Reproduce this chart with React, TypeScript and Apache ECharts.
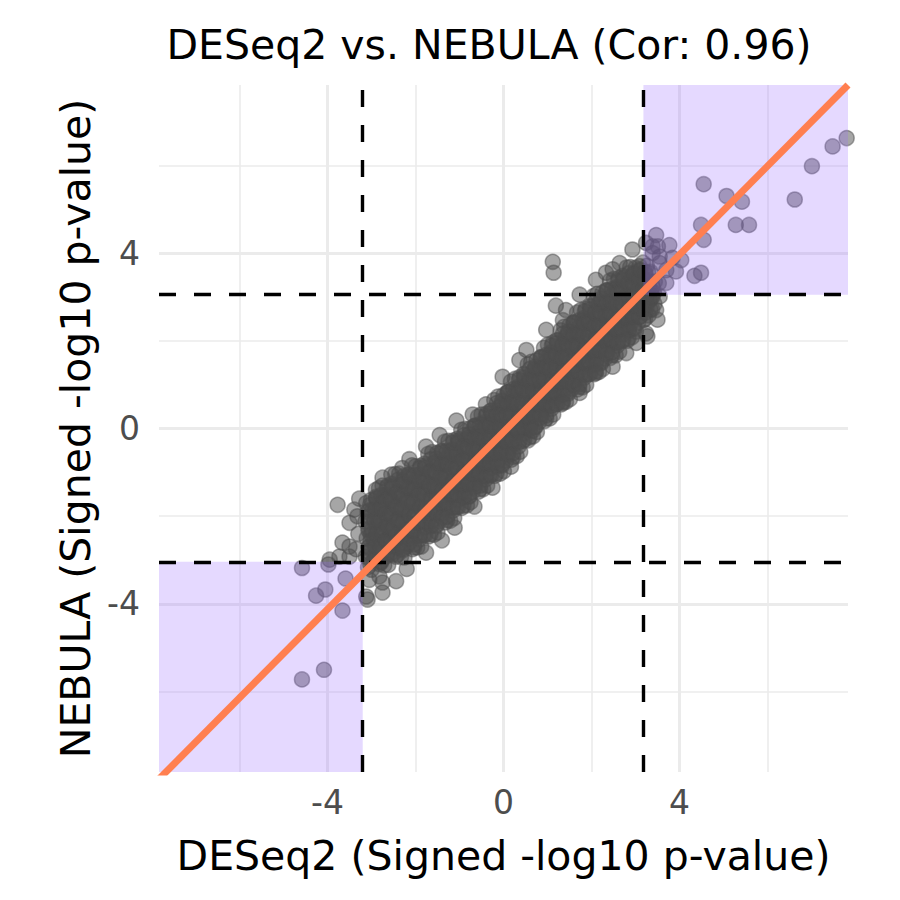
import React, { useEffect, useRef } from "react";
import * as echarts from "echarts";

const chartTitle = "DESeq2 vs. NEBULA (Cor: 0.96)";
const xAxisTitle = "DESeq2 (Signed -log10 p-value)";
const yAxisTitle = "NEBULA (Signed -log10 p-value)";

const axisLimits = [-7.83, 7.83];
const tickValues = [-4, 0, 4];
const majorGridValues = [-4, 0, 4];
const minorGridValues = [-6, -2, 2, 6];
const xThresholds = [-3.2, 3.18];
const yThresholds = [-3.04, 3.05];
const fitLineX = [-7.83, 7.83];
const fitLineY = [-7.99, 7.83];

// dense band of genes along the diagonal (DESeq2, NEBULA)
const coreCloud: [number, number][] = [
  [-3.08,-3.16],[-3.13,-2.92],[-3.06,-2.70],[-3.11,-2.50],[-3.07,-2.32],[-3.14,-2.12],[-3.09,-1.90],[-3.12,-1.70],
  [-3.00,-3.22],[-2.95,-3.00],[-3.02,-2.76],[-2.96,-2.53],[-2.99,-2.31],[-2.94,-2.08],[-2.98,-1.86],[-3.01,-1.63],
  [-2.82,-3.09],[-2.85,-2.80],[-2.88,-2.57],[-2.81,-2.33],[-2.87,-2.09],[-2.84,-1.85],[-2.89,-1.60],[-2.83,-1.36],
  [-2.71,-3.12],[-2.76,-2.82],[-2.69,-2.55],[-2.74,-2.30],[-2.70,-2.08],[-2.77,-1.82],[-2.72,-1.55],[-2.75,-1.30],
  [-2.62,-3.11],[-2.57,-2.85],[-2.64,-2.58],[-2.58,-2.32],[-2.61,-2.07],[-2.56,-1.81],[-2.60,-1.56],[-2.63,-1.30],
  [-2.45,-2.92],[-2.48,-2.61],[-2.51,-2.35],[-2.44,-2.09],[-2.50,-1.83],[-2.47,-1.58],[-2.52,-1.30],[-2.46,-1.04],
  [-2.33,-2.93],[-2.38,-2.62],[-2.31,-2.33],[-2.36,-2.07],[-2.32,-1.85],[-2.39,-1.58],[-2.34,-1.29],[-2.37,-1.03],
  [-2.25,-2.94],[-2.20,-2.68],[-2.27,-2.39],[-2.21,-2.13],[-2.24,-1.87],[-2.19,-1.61],[-2.23,-1.34],[-2.26,-1.08],
  [-2.07,-2.75],[-2.10,-2.44],[-2.13,-2.18],[-2.06,-1.91],[-2.12,-1.65],[-2.09,-1.39],[-2.14,-1.10],[-2.08,-0.84],
  [-1.96,-2.71],[-2.01,-2.45],[-1.94,-2.15],[-1.99,-1.89],[-1.95,-1.66],[-2.02,-1.38],[-1.97,-1.12],[-2.00,-0.86],
  [-1.87,-2.69],[-1.82,-2.43],[-1.89,-2.15],[-1.83,-1.89],[-1.86,-1.63],[-1.81,-1.37],[-1.85,-1.11],[-1.88,-0.85],
  [-1.70,-2.46],[-1.73,-2.15],[-1.76,-1.89],[-1.69,-1.63],[-1.75,-1.37],[-1.72,-1.12],[-1.77,-0.84],[-1.71,-0.58],
  [-1.58,-2.42],[-1.63,-2.11],[-1.56,-1.83],[-1.61,-1.57],[-1.57,-1.35],[-1.64,-1.08],[-1.59,-0.80],[-1.62,-0.54],
  [-1.50,-2.37],[-1.45,-2.11],[-1.52,-1.84],[-1.46,-1.58],[-1.49,-1.33],[-1.44,-1.07],[-1.48,-0.82],[-1.51,-0.56],
  [-1.32,-2.14],[-1.35,-1.84],[-1.38,-1.58],[-1.31,-1.33],[-1.37,-1.08],[-1.34,-0.83],[-1.39,-0.55],[-1.33,-0.30],
  [-1.21,-2.10],[-1.26,-1.80],[-1.19,-1.53],[-1.24,-1.28],[-1.20,-1.06],[-1.27,-0.80],[-1.22,-0.53],[-1.25,-0.28],
  [-1.12,-2.04],[-1.07,-1.79],[-1.14,-1.52],[-1.08,-1.27],[-1.11,-1.02],[-1.06,-0.77],[-1.10,-0.52],[-1.13,-0.27],
  [-0.95,-1.81],[-0.98,-1.52],[-1.01,-1.27],[-0.94,-1.03],[-1.00,-0.78],[-0.97,-0.54],[-1.02,-0.27],[-0.96,-0.03],
  [-0.83,-1.75],[-0.88,-1.47],[-0.81,-1.21],[-0.86,-0.97],[-0.82,-0.76],[-0.89,-0.51],[-0.84,-0.25],[-0.87,-0.01],
  [-0.75,-1.68],[-0.70,-1.44],[-0.77,-1.19],[-0.71,-0.95],[-0.74,-0.71],[-0.69,-0.48],[-0.73,-0.24],[-0.76,0.00],
  [-0.57,-1.44],[-0.60,-1.16],[-0.63,-0.92],[-0.56,-0.69],[-0.62,-0.45],[-0.59,-0.22],[-0.64,0.04],[-0.58,0.27],
  [-0.46,-1.38],[-0.51,-1.10],[-0.44,-0.85],[-0.49,-0.61],[-0.45,-0.41],[-0.52,-0.17],[-0.47,0.09],[-0.50,0.32],
  [-0.37,-1.30],[-0.32,-1.07],[-0.39,-0.82],[-0.33,-0.59],[-0.36,-0.35],[-0.31,-0.12],[-0.35,0.11],[-0.38,0.34],
  [-0.20,-1.08],[-0.23,-0.79],[-0.26,-0.56],[-0.19,-0.32],[-0.25,-0.08],[-0.22,0.16],[-0.27,0.41],[-0.21,0.65],
  [-0.08,-1.03],[-0.13,-0.74],[-0.06,-0.48],[-0.11,-0.24],[-0.07,-0.02],[-0.14,0.23],[-0.09,0.49],[-0.12,0.73],
  [0.01,-0.97],[0.06,-0.73],[-0.02,-0.46],[0.05,-0.22],[0.02,0.03],[0.07,0.27],[0.03,0.52],[0.00,0.76],
  [0.18,-0.71],[0.15,-0.42],[0.12,-0.17],[0.19,0.07],[0.13,0.32],[0.16,0.56],[0.11,0.83],[0.17,1.07],
  [0.30,-0.63],[0.25,-0.34],[0.32,-0.08],[0.27,0.16],[0.31,0.38],[0.24,0.63],[0.29,0.89],[0.26,1.13],
  [0.38,-0.53],[0.43,-0.29],[0.36,-0.03],[0.42,0.21],[0.39,0.45],[0.44,0.69],[0.40,0.93],[0.37,1.17],
  [0.56,-0.27],[0.53,0.02],[0.50,0.26],[0.57,0.49],[0.51,0.73],[0.54,0.97],[0.49,1.22],[0.55,1.46],
  [0.67,-0.18],[0.62,0.10],[0.69,0.35],[0.64,0.59],[0.68,0.79],[0.61,1.03],[0.66,1.29],[0.63,1.52],
  [0.76,-0.08],[0.81,0.15],[0.74,0.40],[0.80,0.63],[0.77,0.86],[0.82,1.09],[0.78,1.32],[0.75,1.55],
  [0.93,0.17],[0.90,0.44],[0.87,0.67],[0.94,0.90],[0.88,1.13],[0.91,1.36],[0.86,1.61],[0.92,1.84],
  [1.05,0.23],[1.00,0.51],[1.07,0.76],[1.02,0.99],[1.06,1.19],[0.99,1.43],[1.04,1.68],[1.01,1.91],
  [1.13,0.32],[1.18,0.55],[1.11,0.80],[1.17,1.03],[1.14,1.26],[1.19,1.49],[1.15,1.72],[1.12,1.95],
  [1.31,0.55],[1.28,0.83],[1.25,1.06],[1.32,1.29],[1.26,1.53],[1.29,1.76],[1.24,2.01],[1.30,2.24],
  [1.42,0.61],[1.37,0.89],[1.44,1.14],[1.39,1.38],[1.43,1.58],[1.36,1.83],[1.41,2.08],[1.38,2.32],
  [1.51,0.67],[1.56,0.91],[1.49,1.16],[1.55,1.40],[1.52,1.64],[1.57,1.88],[1.53,2.11],[1.50,2.35],
  [1.68,0.89],[1.65,1.18],[1.62,1.42],[1.69,1.66],[1.63,1.90],[1.66,2.14],[1.61,2.40],[1.67,2.64],
  [1.80,0.94],[1.75,1.23],[1.82,1.49],[1.77,1.73],[1.81,1.95],[1.74,2.20],[1.79,2.46],[1.76,2.70],
  [1.88,1.00],[1.93,1.24],[1.86,1.51],[1.92,1.75],[1.89,2.00],[1.94,2.24],[1.90,2.49],[1.87,2.73],
  [2.06,1.24],[2.03,1.53],[2.00,1.78],[2.07,2.02],[2.01,2.27],[2.04,2.51],[1.99,2.78],[2.05,3.02],
  [2.17,1.29],[2.12,1.58],[2.19,1.85],[2.14,2.09],[2.18,2.31],[2.11,2.56],[2.16,2.83],[2.13,3.07],
  [2.26,1.36],[2.31,1.60],[2.24,1.87],[2.30,2.11],[2.27,2.36],[2.32,2.60],[2.28,2.85],[2.25,3.09],
  [2.43,1.61],[2.40,1.90],[2.37,2.14],[2.44,2.38],[2.38,2.62],[2.41,2.87],[2.36,3.13],[2.42,3.37],
  [2.55,1.67],[2.50,1.96],[2.57,2.21],[2.52,2.45],[2.56,2.67],[2.49,2.92],[2.54,3.17],[2.51,3.41],
  [2.63,1.75],[2.68,1.99],[2.61,2.24],[2.67,2.48],[2.64,2.72],[2.69,2.96],[2.65,3.19],[2.62,3.43],
  [2.81,2.00],[2.78,2.27],[2.75,2.50],[2.82,2.73],[2.76,2.96],[2.79,3.19],[2.74,3.44],[2.80,3.67],
  [2.92,2.08],[2.87,2.34],[2.94,2.58],[2.89,2.80],[2.93,3.00],[2.86,3.22],[2.91,3.46],[2.88,3.68],
  [3.01,2.21],[3.06,2.41],[2.99,2.63],[3.05,2.84],[3.02,3.04],[3.07,3.25],[3.03,3.45],[3.00,3.66],
  [3.18,2.47],[3.15,2.68],[3.12,2.86],[3.19,3.04],[3.13,3.22],[3.16,3.40],[3.11,3.60],[3.17,3.78],
  [3.30,2.58],[3.25,2.77],[3.32,2.93],[3.27,3.09],[3.31,3.22],[3.24,3.39],[3.29,3.55],[3.26,3.71],
  [3.38,2.72],[3.43,2.84],[3.36,2.98],[3.42,3.10],[3.39,3.23],[3.44,3.35],
];

// second layer of the band (crowded genes)
const innerCloud: [number, number][] = [
  [-3.03,-2.98],[-3.06,-2.70],[-3.02,-2.42],[-3.05,-2.14],[-3.04,-1.86],
  [-2.91,-2.85],[-2.93,-2.54],[-2.90,-2.22],[-2.92,-1.91],[-2.89,-1.59],
  [-2.78,-3.05],[-2.80,-2.72],[-2.77,-2.38],[-2.81,-2.05],[-2.79,-1.72],
  [-2.66,-2.91],[-2.68,-2.56],[-2.65,-2.21],[-2.67,-1.86],[-2.66,-1.51],
  [-2.53,-2.69],[-2.55,-2.34],[-2.52,-1.98],[-2.56,-1.62],[-2.54,-1.26],
  [-2.41,-2.88],[-2.43,-2.52],[-2.40,-2.16],[-2.42,-1.79],[-2.41,-1.43],
  [-2.28,-2.73],[-2.30,-2.37],[-2.27,-2.00],[-2.29,-1.64],[-2.29,-1.27],
  [-2.16,-2.52],[-2.18,-2.15],[-2.15,-1.79],[-2.17,-1.42],[-2.16,-1.05],
  [-2.03,-2.71],[-2.05,-2.35],[-2.02,-1.98],[-2.06,-1.61],[-2.04,-1.24],
  [-1.91,-2.52],[-1.93,-2.15],[-1.90,-1.78],[-1.92,-1.42],[-1.91,-1.05],
  [-1.78,-2.25],[-1.80,-1.89],[-1.77,-1.53],[-1.81,-1.16],[-1.79,-0.80],
  [-1.66,-2.41],[-1.68,-2.05],[-1.65,-1.69],[-1.67,-1.32],[-1.66,-0.96],
  [-1.53,-2.20],[-1.55,-1.84],[-1.52,-1.48],[-1.56,-1.12],[-1.54,-0.76],
  [-1.41,-1.94],[-1.43,-1.59],[-1.40,-1.23],[-1.42,-0.87],[-1.41,-0.51],
  [-1.28,-2.09],[-1.30,-1.74],[-1.27,-1.38],[-1.31,-1.03],[-1.29,-0.67],
  [-1.16,-1.88],[-1.18,-1.53],[-1.15,-1.18],[-1.17,-0.83],[-1.16,-0.48],
  [-1.03,-1.63],[-1.05,-1.28],[-1.02,-0.93],[-1.06,-0.58],[-1.04,-0.23],
  [-0.91,-1.76],[-0.93,-1.42],[-0.90,-1.08],[-0.92,-0.73],[-0.91,-0.39],
  [-0.78,-1.54],[-0.80,-1.20],[-0.77,-0.87],[-0.81,-0.53],[-0.79,-0.20],
  [-0.66,-1.27],[-0.68,-0.94],[-0.65,-0.61],[-0.67,-0.27],[-0.66,0.06],
  [-0.53,-1.38],[-0.55,-1.05],[-0.52,-0.72],[-0.56,-0.39],[-0.54,-0.06],
  [-0.41,-1.16],[-0.43,-0.83],[-0.40,-0.51],[-0.42,-0.18],[-0.41,0.15],
  [-0.28,-0.90],[-0.30,-0.57],[-0.27,-0.25],[-0.31,0.08],[-0.29,0.40],
  [-0.16,-1.02],[-0.18,-0.69],[-0.15,-0.35],[-0.17,-0.02],[-0.16,0.31],
  [-0.03,-0.81],[-0.05,-0.47],[-0.02,-0.13],[-0.06,0.21],[-0.04,0.55],
  [0.09,-0.55],[0.07,-0.21],[0.10,0.14],[0.08,0.48],[0.09,0.82],
  [0.22,-0.65],[0.20,-0.31],[0.23,0.03],[0.19,0.38],[0.21,0.72],
  [0.34,-0.41],[0.32,-0.07],[0.35,0.27],[0.33,0.61],[0.34,0.95],
  [0.47,-0.11],[0.45,0.23],[0.48,0.57],[0.44,0.90],[0.46,1.24],
  [0.59,-0.20],[0.57,0.14],[0.60,0.47],[0.58,0.80],[0.59,1.13],
  [0.72,0.04],[0.70,0.37],[0.73,0.69],[0.69,1.02],[0.71,1.35],
  [0.84,0.32],[0.82,0.64],[0.85,0.96],[0.83,1.28],[0.84,1.61],
  [0.97,0.23],[0.95,0.55],[0.98,0.87],[0.94,1.19],[0.96,1.52],
  [1.09,0.45],[1.07,0.77],[1.10,1.09],[1.08,1.42],[1.09,1.74],
  [1.22,0.72],[1.20,1.04],[1.23,1.36],[1.19,1.68],[1.21,2.01],
  [1.34,0.61],[1.32,0.94],[1.35,1.26],[1.33,1.59],[1.34,1.91],
  [1.47,0.83],[1.45,1.15],[1.48,1.48],[1.44,1.81],[1.46,2.14],
  [1.59,1.08],[1.57,1.41],[1.60,1.75],[1.58,2.08],[1.59,2.41],
  [1.72,0.95],[1.70,1.29],[1.73,1.63],[1.69,1.96],[1.71,2.30],
  [1.84,1.16],[1.82,1.50],[1.85,1.84],[1.83,2.18],[1.84,2.52],
  [1.97,1.42],[1.95,1.77],[1.98,2.11],[1.94,2.45],[1.96,2.79],
  [2.09,1.30],[2.07,1.64],[2.10,1.98],[2.08,2.33],[2.09,2.67],
  [2.22,1.52],[2.20,1.86],[2.23,2.20],[2.19,2.54],[2.21,2.89],
  [2.34,1.78],[2.32,2.13],[2.35,2.47],[2.33,2.81],[2.34,3.15],
  [2.47,1.67],[2.45,2.01],[2.48,2.34],[2.44,2.68],[2.46,3.02],
  [2.59,1.89],[2.57,2.23],[2.60,2.56],[2.58,2.90],[2.59,3.23],
  [2.72,2.15],[2.70,2.48],[2.73,2.82],[2.69,3.15],[2.71,3.48],
  [2.84,2.05],[2.82,2.37],[2.85,2.69],[2.83,3.01],[2.84,3.34],
  [2.97,2.28],[2.95,2.59],[2.98,2.90],[2.94,3.20],[2.96,3.51],
  [3.09,2.55],[3.07,2.84],[3.10,3.12],[3.08,3.41],[3.09,3.70],
  [3.22,2.50],[3.20,2.75],[3.23,3.00],[3.21,3.25],[3.22,3.51],
  [3.34,2.71],[3.32,2.92],[3.35,3.14],[3.33,3.36],[3.34,3.57],
];

// third layer filling the centre of the band
const centreCloud: [number, number][] = [
  [-3.03,-3.09],[-3.05,-2.82],[-3.02,-2.55],[-3.06,-2.28],[-3.04,-2.01],[-3.03,-1.74],
  [-2.90,-2.97],[-2.92,-2.68],[-2.89,-2.40],[-2.93,-2.11],[-2.91,-1.83],[-2.90,-1.56],
  [-2.78,-3.02],[-2.80,-2.72],[-2.77,-2.42],[-2.81,-2.12],[-2.79,-1.82],[-2.78,-1.52],
  [-2.65,-2.85],[-2.67,-2.55],[-2.64,-2.24],[-2.68,-1.94],[-2.66,-1.63],[-2.65,-1.34],
  [-2.53,-2.88],[-2.55,-2.57],[-2.52,-2.27],[-2.56,-1.96],[-2.54,-1.65],[-2.53,-1.34],
  [-2.40,-2.71],[-2.42,-2.40],[-2.39,-2.08],[-2.43,-1.77],[-2.41,-1.46],[-2.40,-1.17],
  [-2.28,-2.77],[-2.30,-2.45],[-2.27,-2.14],[-2.31,-1.82],[-2.29,-1.51],[-2.28,-1.19],
  [-2.15,-2.61],[-2.17,-2.30],[-2.14,-1.98],[-2.18,-1.67],[-2.16,-1.35],[-2.15,-1.06],
  [-2.03,-2.64],[-2.05,-2.32],[-2.02,-2.01],[-2.06,-1.69],[-2.04,-1.38],[-2.03,-1.06],
  [-1.90,-2.44],[-1.92,-2.13],[-1.89,-1.81],[-1.93,-1.50],[-1.91,-1.19],[-1.90,-0.90],
  [-1.78,-2.43],[-1.80,-2.12],[-1.77,-1.82],[-1.81,-1.51],[-1.79,-1.20],[-1.78,-0.89],
  [-1.65,-2.22],[-1.67,-1.91],[-1.64,-1.60],[-1.68,-1.29],[-1.66,-0.98],[-1.65,-0.70],
  [-1.53,-2.22],[-1.55,-1.91],[-1.52,-1.60],[-1.56,-1.30],[-1.54,-0.99],[-1.53,-0.69],
  [-1.40,-2.02],[-1.42,-1.71],[-1.39,-1.41],[-1.43,-1.11],[-1.41,-0.81],[-1.40,-0.52],
  [-1.28,-2.01],[-1.30,-1.71],[-1.27,-1.41],[-1.31,-1.11],[-1.29,-0.81],[-1.28,-0.51],
  [-1.15,-1.80],[-1.17,-1.50],[-1.14,-1.20],[-1.18,-0.90],[-1.16,-0.60],[-1.15,-0.32],
  [-1.03,-1.79],[-1.05,-1.50],[-1.02,-1.21],[-1.06,-0.91],[-1.04,-0.62],[-1.03,-0.32],
  [-0.90,-1.57],[-0.92,-1.29],[-0.89,-1.00],[-0.93,-0.71],[-0.91,-0.42],[-0.90,-0.15],
  [-0.78,-1.55],[-0.80,-1.27],[-0.77,-0.98],[-0.81,-0.70],[-0.79,-0.41],[-0.78,-0.13],
  [-0.65,-1.33],[-0.67,-1.05],[-0.64,-0.77],[-0.68,-0.48],[-0.66,-0.20],[-0.65,0.06],
  [-0.53,-1.30],[-0.55,-1.02],[-0.52,-0.74],[-0.56,-0.46],[-0.54,-0.18],[-0.53,0.10],
  [-0.40,-1.08],[-0.42,-0.80],[-0.39,-0.52],[-0.43,-0.25],[-0.41,0.03],[-0.40,0.29],
  [-0.28,-1.07],[-0.30,-0.79],[-0.27,-0.50],[-0.31,-0.22],[-0.29,0.07],[-0.28,0.35],
  [-0.15,-0.86],[-0.17,-0.57],[-0.14,-0.28],[-0.18,0.01],[-0.16,0.30],[-0.15,0.58],
  [-0.03,-0.84],[-0.05,-0.55],[-0.02,-0.26],[-0.06,0.04],[-0.04,0.33],[-0.03,0.63],
  [0.10,-0.61],[0.08,-0.31],[0.11,-0.02],[0.07,0.28],[0.09,0.57],[0.10,0.84],
  [0.22,-0.56],[0.20,-0.27],[0.23,0.03],[0.19,0.32],[0.21,0.61],[0.22,0.90],
  [0.35,-0.31],[0.33,-0.03],[0.36,0.26],[0.32,0.55],[0.34,0.84],[0.35,1.11],
  [0.47,-0.26],[0.45,0.02],[0.48,0.31],[0.44,0.59],[0.46,0.88],[0.47,1.16],
  [0.60,-0.01],[0.58,0.27],[0.61,0.55],[0.57,0.83],[0.59,1.10],[0.60,1.36],
  [0.72,0.03],[0.70,0.31],[0.73,0.58],[0.69,0.86],[0.71,1.14],[0.72,1.41],
  [0.85,0.26],[0.83,0.54],[0.86,0.82],[0.82,1.09],[0.84,1.37],[0.85,1.63],
  [0.97,0.30],[0.95,0.58],[0.98,0.85],[0.94,1.13],[0.96,1.41],[0.97,1.68],
  [1.10,0.52],[1.08,0.80],[1.11,1.08],[1.07,1.35],[1.09,1.63],[1.10,1.89],
  [1.22,0.56],[1.20,0.83],[1.23,1.11],[1.19,1.39],[1.21,1.67],[1.22,1.95],
  [1.35,0.77],[1.33,1.05],[1.36,1.34],[1.32,1.62],[1.34,1.90],[1.35,2.16],
  [1.47,0.79],[1.45,1.07],[1.48,1.36],[1.44,1.64],[1.46,1.93],[1.47,2.21],
  [1.60,1.00],[1.58,1.29],[1.61,1.57],[1.57,1.86],[1.59,2.15],[1.60,2.42],
  [1.72,1.01],[1.70,1.30],[1.73,1.60],[1.69,1.89],[1.71,2.18],[1.72,2.47],
  [1.85,1.22],[1.83,1.52],[1.86,1.81],[1.82,2.11],[1.84,2.40],[1.85,2.67],
  [1.97,1.25],[1.95,1.54],[1.98,1.83],[1.94,2.13],[1.96,2.42],[1.97,2.72],
  [2.10,1.46],[2.08,1.76],[2.11,2.05],[2.07,2.35],[2.09,2.64],[2.10,2.91],
  [2.22,1.49],[2.20,1.78],[2.23,2.07],[2.19,2.37],[2.21,2.66],[2.22,2.96],
  [2.35,1.71],[2.33,2.00],[2.36,2.29],[2.32,2.58],[2.34,2.87],[2.35,3.15],
  [2.47,1.74],[2.45,2.03],[2.48,2.32],[2.44,2.61],[2.46,2.89],[2.47,3.18],
  [2.60,1.96],[2.58,2.25],[2.61,2.53],[2.57,2.82],[2.59,3.10],[2.60,3.37],
  [2.72,2.01],[2.70,2.29],[2.73,2.56],[2.69,2.84],[2.71,3.12],[2.72,3.39],
  [2.85,2.24],[2.83,2.51],[2.86,2.77],[2.82,3.03],[2.84,3.30],[2.85,3.54],
  [2.97,2.31],[2.95,2.56],[2.98,2.80],[2.94,3.05],[2.96,3.29],[2.97,3.54],
  [3.10,2.55],[3.08,2.77],[3.11,2.98],[3.07,3.20],[3.09,3.41],[3.10,3.62],
  [3.22,2.64],[3.20,2.82],[3.23,3.01],[3.19,3.19],[3.21,3.38],[3.22,3.57],
];

// scattered genes at the rim of the band
const cloudEdges: [number, number][] = [
  [-3.77,-1.74],[-3.39,-1.85],[-3.50,-2.15],[-3.32,-2.00],[-3.66,-2.60],[-3.50,-2.69],[-3.73,-2.92],[-3.50,-2.92],
  [-3.95,-2.99],[-3.30,-2.40],[-3.35,-2.75],[-3.28,-1.60],
  [-2.75,-1.12],[-2.55,-1.05],[-2.90,-1.40],[-2.30,-0.90],[-2.14,-0.70],[-1.76,-0.41],[-1.45,-0.15],[-1.07,0.18],
  [-0.70,0.32],[-0.40,0.55],[-0.02,1.18],[0.36,1.56],[0.52,1.79],[0.97,2.25],[1.35,2.47],[1.42,2.70],[1.73,3.05],
  [2.10,3.39],[2.33,3.55],[2.48,3.63],[2.64,3.77],[2.93,4.08],
  [1.12,3.80],[1.14,3.55],[1.19,2.80],
  [-3.05,-3.45],[-2.44,-3.48],[-2.75,-3.51],[-2.82,-3.37],[-2.75,-3.74],[-3.12,-3.83],[-3.09,-3.90],[-2.20,-3.20],
  [-1.76,-2.83],[-1.40,-2.55],[-1.11,-2.26],[-0.66,-1.78],[-0.25,-1.35],[0.17,-0.87],[0.66,-0.05],[1.35,0.58],
  [1.73,0.81],[2.10,1.26],[2.48,1.41],[2.79,1.72],[3.02,1.95],[3.27,2.10],[3.24,2.17],[3.50,2.48],[3.47,2.70],
  [3.39,3.01],[3.55,3.01],[3.53,3.31],[3.70,3.32],[3.70,3.61],[3.92,3.58],[3.55,3.77],[3.55,3.92],[3.84,3.89],
  [4.04,3.84],[3.24,4.23],[3.39,4.00],[3.39,4.15],[3.47,4.41],[3.51,4.15],[3.77,4.18],
];

// strongly up-regulated genes (upper-right tail)
const upperTail: [number, number][] = [
  [4.34,3.48],[4.49,3.55],[4.55,5.57],[5.07,5.30],[5.42,5.17],[5.28,4.64],[5.58,4.64],[4.49,4.64],[4.55,4.30],
  [6.62,5.22],[7.01,5.98],[7.48,6.43],[7.80,6.62],
];

// strongly down-regulated genes (lower-left tail)
const lowerTail: [number, number][] = [
  [-4.58,-3.18],[-3.98,-3.10],[-4.26,-3.81],[-4.05,-3.67],[-3.59,-3.42],[-3.66,-4.15],[-4.08,-5.50],[-4.58,-5.72],
];

const FONT = "'DejaVu Sans', 'Noto Sans', sans-serif";

export default function App() {
  const ref = useRef<HTMLDivElement>(null);

  useEffect(() => {
    if (!ref.current) return;
    const chart = echarts.init(ref.current, null, { renderer: "svg" });
    const allPoints = [
      ...coreCloud,
      ...innerCloud,
      ...centreCloud,
      ...cloudEdges,
      ...upperTail,
      ...lowerTail,
    ];
    const [lo, hi] = axisLimits;

    const axisCommon = (name: string, gap: number, margin: number) => ({
      type: "value",
      min: lo,
      max: hi,
      name,
      nameLocation: "middle",
      nameGap: gap,
      nameTextStyle: { fontSize: 41, color: "#000000", fontFamily: FONT },
      axisLine: { show: false },
      axisTick: { show: false },
      splitLine: { show: false },
      axisLabel: {
        customValues: tickValues,
        fontSize: 33,
        color: "#4D4D4D",
        fontFamily: FONT,
        margin,
      },
    });

    const gridLineItems: any[] = [];
    majorGridValues.forEach((v) => {
      gridLineItems.push({ xAxis: v, lineStyle: { color: "#EBEBEB", width: 3, type: "solid" } });
      gridLineItems.push({ yAxis: v, lineStyle: { color: "#EBEBEB", width: 3, type: "solid" } });
    });
    minorGridValues.forEach((v) => {
      gridLineItems.push({ xAxis: v, lineStyle: { color: "#EBEBEB", width: 1.6, type: "solid" } });
      gridLineItems.push({ yAxis: v, lineStyle: { color: "#EBEBEB", width: 1.6, type: "solid" } });
    });

    const dashStyle = { color: "#000000", width: 3.4, type: [17, 18] as any };
    const thresholdItems: any[] = [
      ...xThresholds.map((v) => ({ xAxis: v, lineStyle: dashStyle })),
      ...yThresholds.map((v) => ({ yAxis: v, lineStyle: dashStyle })),
    ];

    const option: any = {
      animation: false,
      grid: { left: 159, right: 52, top: 85, bottom: 128, containLabel: false },
      xAxis: axisCommon(xAxisTitle, 63, 14),
      yAxis: axisCommon(yAxisTitle, 62, 19),
      graphic: [
        {
          type: "text",
          x: 489,
          y: 45,
          silent: true,
          style: {
            text: chartTitle,
            fontSize: 41,
            fontFamily: FONT,
            fill: "#000000",
            align: "center",
            verticalAlign: "middle",
          },
        },
      ],
      series: [
        {
          name: "grid",
          type: "line",
          data: [[0, 0]],
          symbol: "none",
          lineStyle: { opacity: 0 },
          silent: true,
          z: 1,
          markLine: {
            z: 1,
            silent: true,
            symbol: ["none", "none"],
            label: { show: false },
            emphasis: { disabled: true },
            data: gridLineItems,
          },
        },
        {
          name: "genes",
          type: "scatter",
          data: allPoints,
          symbol: "circle",
          symbolSize: 15,
          silent: true,
          z: 2,
          itemStyle: {
            color: "rgba(77,77,77,0.5)",
            borderColor: "rgba(77,77,77,0.5)",
            borderWidth: 1.5,
            opacity: 1,
          },
        },
        {
          name: "shade",
          type: "line",
          data: [[0, 0]],
          symbol: "none",
          lineStyle: { opacity: 0 },
          silent: true,
          z: 3,
          markArea: {
            z: 3,
            silent: true,
            itemStyle: { color: "rgba(153,102,255,0.25)", borderWidth: 0 },
            emphasis: { disabled: true },
            data: [
              [
                { xAxis: xThresholds[1], yAxis: yThresholds[1] },
                { xAxis: hi, yAxis: hi },
              ],
              [
                { xAxis: lo, yAxis: lo },
                { xAxis: xThresholds[0], yAxis: yThresholds[0] },
              ],
            ],
          },
        },
        {
          name: "thresholds",
          type: "line",
          data: [[0, 0]],
          symbol: "none",
          lineStyle: { opacity: 0 },
          silent: true,
          z: 4,
          markLine: {
            z: 4,
            silent: true,
            symbol: ["none", "none"],
            label: { show: false },
            emphasis: { disabled: true },
            data: thresholdItems,
          },
        },
        {
          name: "fit",
          type: "line",
          data: fitLineX.map((x, i) => [x, fitLineY[i]]),
          symbol: "none",
          silent: true,
          clip: true,
          z: 5,
          lineStyle: { color: "#FF7F50", width: 7 },
        },
      ],
    };

    chart.setOption(option);
    return () => chart.dispose();
  }, []);

  return (
    <div
      ref={ref}
      style={{ position: "absolute", left: 0, top: 0, width: 900, height: 900, background: "#ffffff" }}
    />
  );
}
